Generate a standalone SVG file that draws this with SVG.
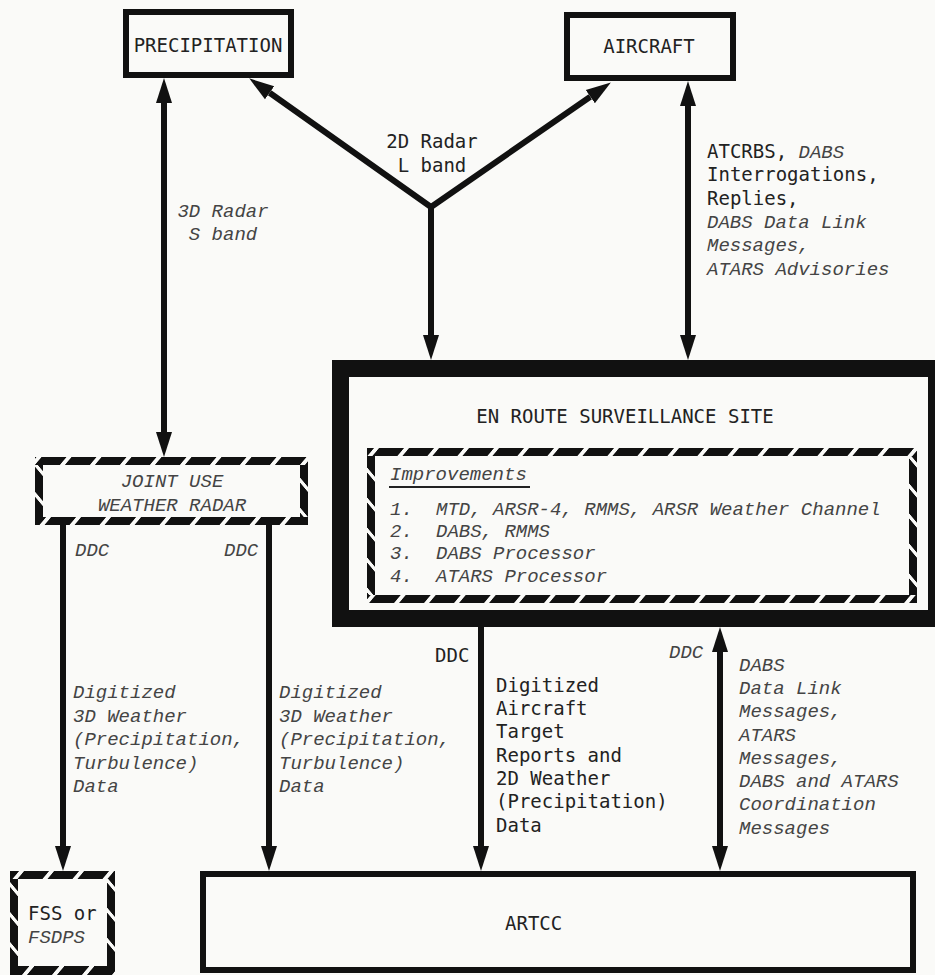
<svg xmlns="http://www.w3.org/2000/svg" width="935" height="975" viewBox="0 0 935 975">
<style>
.bg{fill:#fafaf8}
.box{fill:none;stroke:#111;stroke-width:6}
.thick{fill:none;stroke:#111;stroke-width:17}
.ln{fill:none;stroke:#111;stroke-width:6;stroke-linejoin:miter}
.up{font-family:"DejaVu Sans Mono","Liberation Mono",monospace;font-size:19px;fill:#222}
.it{font-family:"Liberation Mono","DejaVu Sans Mono",monospace;font-style:italic;font-size:19px;fill:#444}
.mid{text-anchor:middle}
</style>
<defs>
<marker id="ah" markerUnits="userSpaceOnUse" markerWidth="26" markerHeight="18" refX="0" refY="8" orient="auto-start-reverse" viewBox="0 0 26 16">
<path d="M0,0 L25,8 L0,16 Z" fill="#111"/>
</marker>
<pattern id="hh" patternUnits="userSpaceOnUse" width="30" height="30" patternTransform="skewX(-40)">
<rect width="30" height="30" fill="#111"/>
<rect width="5" height="30" fill="#fafaf8"/>
</pattern>
<pattern id="hv" patternUnits="userSpaceOnUse" width="30" height="30" patternTransform="skewY(50)">
<rect width="30" height="30" fill="#111"/>
<rect width="30" height="5" fill="#fafaf8"/>
</pattern>
</defs>
<rect class="bg" x="0" y="0" width="935" height="975"/>

<g id="precipitation">
<rect class="box" x="126" y="12" width="165" height="63"/>
<text class="up mid" x="208" y="52">PRECIPITATION</text>
</g>

<g id="aircraft">
<rect class="box" x="567" y="15" width="166" height="63"/>
<text class="up mid" x="649" y="53">AIRCRAFT</text>
</g>

<g id="enroute">
<rect class="thick" x="340.5" y="368.5" width="596" height="250"/>
<text class="up mid" x="625" y="423">EN ROUTE SURVEILLANCE SITE</text>
</g>

<g id="improvements">
<rect x="367" y="448" width="550" height="8" fill="url(#hh)"/>
<rect x="367" y="595" width="550" height="8" fill="url(#hh)"/>
<rect x="367" y="456" width="8" height="139" fill="url(#hv)"/>
<rect x="909" y="456" width="8" height="139" fill="url(#hv)"/>
<text class="it" x="390" y="480">Improvements</text>
<line x1="389" y1="487" x2="530" y2="487" stroke="#222" stroke-width="2"/>
<text class="it" x="390" y="515">1.</text><text class="it" x="436" y="515">MTD, ARSR-4, RMMS, ARSR Weather Channel</text>
<text class="it" x="390" y="537">2.</text><text class="it" x="436" y="537">DABS, RMMS</text>
<text class="it" x="390" y="559">3.</text><text class="it" x="436" y="559">DABS Processor</text>
<text class="it" x="390" y="582">4.</text><text class="it" x="436" y="582">ATARS Processor</text>
</g>

<g id="jointuse">
<rect x="35" y="457" width="273" height="8" fill="url(#hh)"/>
<rect x="35" y="517" width="273" height="8" fill="url(#hh)"/>
<rect x="35" y="465" width="8" height="52" fill="url(#hv)"/>
<rect x="300" y="465" width="8" height="52" fill="url(#hv)"/>
<text class="it mid" x="172" y="487">JOINT USE</text>
<text class="it mid" x="172" y="511">WEATHER RADAR</text>
</g>

<g id="fss">
<rect x="10" y="871" width="105" height="8" fill="url(#hh)"/>
<rect x="10" y="966" width="105" height="9" fill="url(#hh)"/>
<rect x="10" y="879" width="8" height="87" fill="url(#hv)"/>
<rect x="107" y="879" width="8" height="87" fill="url(#hv)"/>
<text class="up" x="28" y="920">FSS or</text>
<text class="it" x="28" y="943">FSDPS</text>
</g>

<g id="artcc">
<rect class="box" x="203" y="874" width="710" height="96"/>
<text class="up" x="505" y="930">ARTCC</text>
</g>

<g id="connectors">
<line class="ln" x1="164" y1="103" x2="164" y2="432" marker-start="url(#ah)" marker-end="url(#ah)"/>
<path class="ln" d="M269.6,92.8 L431,207 L590.3,96.7" marker-start="url(#ah)" marker-end="url(#ah)"/>
<line class="ln" x1="431" y1="205" x2="431" y2="335" marker-end="url(#ah)"/>
<line class="ln" x1="688" y1="106" x2="688" y2="335" marker-start="url(#ah)" marker-end="url(#ah)"/>
<line class="ln" x1="63" y1="525" x2="63" y2="846" marker-end="url(#ah)"/>
<line class="ln" x1="269" y1="525" x2="269" y2="846" marker-end="url(#ah)"/>
<line class="ln" x1="481" y1="627" x2="481" y2="846" marker-end="url(#ah)"/>
<line class="ln" x1="720" y1="652" x2="720" y2="846" marker-start="url(#ah)" marker-end="url(#ah)"/>
</g>

<g id="labels">
<text class="up mid" x="432" y="148">2D Radar</text>
<text class="up mid" x="432" y="172">L band</text>
<text class="it mid" x="223" y="217">3D Radar</text>
<text class="it mid" x="223" y="240">S band</text>
<text x="707" y="158"><tspan class="up">ATCRBS, </tspan><tspan class="it">DABS</tspan></text>
<text class="up" x="707" y="181">Interrogations,</text>
<text class="up" x="707" y="205">Replies,</text>
<text class="it" x="707" y="228">DABS Data Link</text>
<text class="it" x="707" y="251">Messages,</text>
<text class="it" x="707" y="275">ATARS Advisories</text>
<text class="it" x="75" y="556">DDC</text>
<text class="it" x="224" y="556">DDC</text>
<text class="it" x="73" y="698">Digitized</text>
<text class="it" x="73" y="722">3D Weather</text>
<text class="it" x="73" y="745">(Precipitation,</text>
<text class="it" x="73" y="769">Turbulence)</text>
<text class="it" x="73" y="792">Data</text>
<text class="it" x="279" y="698">Digitized</text>
<text class="it" x="279" y="722">3D Weather</text>
<text class="it" x="279" y="745">(Precipitation,</text>
<text class="it" x="279" y="769">Turbulence)</text>
<text class="it" x="279" y="792">Data</text>
<text class="up" x="435" y="662">DDC</text>
<text class="up" x="496" y="692">Digitized</text>
<text class="up" x="496" y="715">Aircraft</text>
<text class="up" x="496" y="738">Target</text>
<text class="up" x="496" y="762">Reports and</text>
<text class="up" x="496" y="785">2D Weather</text>
<text class="up" x="496" y="808">(Precipitation)</text>
<text class="up" x="496" y="832">Data</text>
<text class="it" x="669" y="658">DDC</text>
<text class="it" x="739" y="671">DABS</text>
<text class="it" x="739" y="694">Data Link</text>
<text class="it" x="739" y="717">Messages,</text>
<text class="it" x="739" y="741">ATARS</text>
<text class="it" x="739" y="764">Messages,</text>
<text class="it" x="739" y="787">DABS and ATARS</text>
<text class="it" x="739" y="810">Coordination</text>
<text class="it" x="739" y="834">Messages</text>
</g>
</svg>
